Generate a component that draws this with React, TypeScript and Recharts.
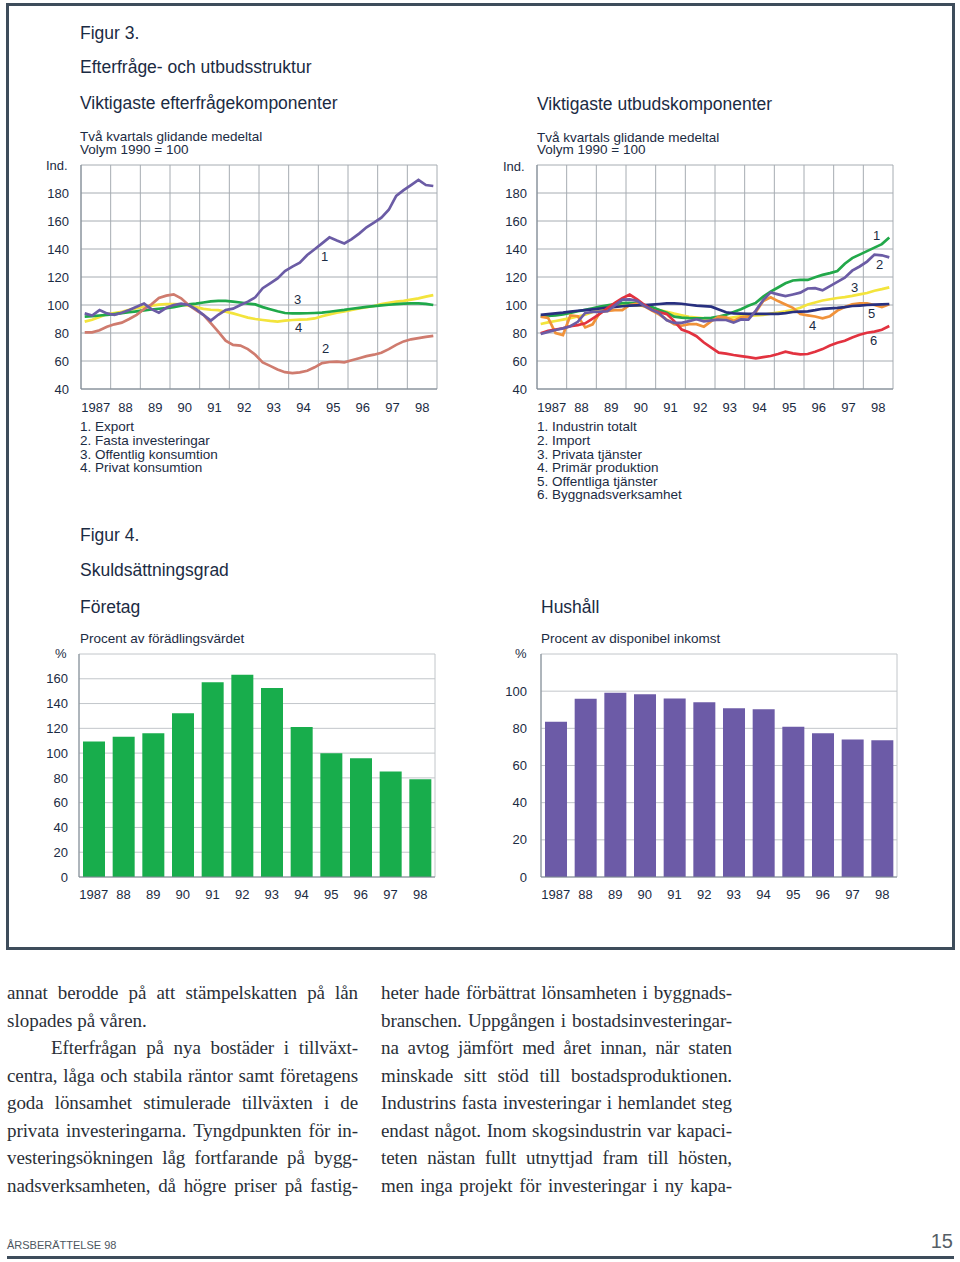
import React from 'react';
import { LineChart, Line, BarChart, Bar, XAxis, YAxis, CartesianGrid } from 'recharts';

const SANS = '"Liberation Sans", Arial, Helvetica, sans-serif';
const SERIF = '"Liberation Serif", "Times New Roman", Times, serif';
const INK = '#1b2b43';
const FRAME = '#3e4d5b';
const GRID = '#a6acb2';
const BAR_GRID = '#c2c6ca';
const BORDER = '#7d8892';

// ---------- categories ----------
const years = [1987, 1988, 1989, 1990, 1991, 1992, 1993, 1994, 1995, 1996, 1997, 1998];
const yearLabels = ['1987', '88', '89', '90', '91', '92', '93', '94', '95', '96', '97', '98'];
const gridYears = [1987, 1988, 1989, 1990, 1991, 1992, 1993, 1994, 1995, 1996, 1997, 1998, 1999];
const labelTicks = years.map((y) => y + 0.5);
const quarterTimes = years.flatMap((y) => [0, 1, 2, 3].map((q) => y + (q + 0.5) / 4));
const indexTicks = [40, 60, 80, 100, 120, 140, 160, 180, 200];
const foretagTicks = [0, 20, 40, 60, 80, 100, 120, 140, 160, 180];
const hushallTicks = [0, 20, 40, 60, 80, 100, 120];

// ---------- Figur 3, efterfrågekomponenter (quarterly, 1990 = 100) ----------
const exportSeries = [94, 92.5, 96.4, 94, 93, 94.5, 96.4, 98.7, 101, 97, 94.5, 98, 100, 101, 100, 97, 93, 88.8, 93, 96.4, 97.4, 100, 102.4, 105.5, 112, 115.5, 119, 124.3, 127.4, 130.2, 135.7, 139.8, 144, 148.3, 146, 144, 147, 151, 155.5, 158.8, 162.4, 168, 178, 182, 185.7, 189.3, 185.7, 185];
const fastaSeries = [80.5, 80.5, 82, 84.5, 86.2, 87.4, 90, 93, 97, 100.5, 105, 106.7, 107.6, 104.8, 100, 96.3, 93, 87, 81, 74.5, 71.5, 71, 68.5, 64.5, 59, 56.5, 54, 52, 51.3, 51.9, 53, 55.5, 58.5, 59.3, 59.5, 59, 60.5, 62, 63.5, 64.5, 65.9, 68.5, 71.5, 74, 75.5, 76.3, 77.2, 78];
const offKonsSeries = [91.7, 92.1, 92.5, 92.9, 93.5, 94.2, 94.8, 95.5, 96.2, 96.8, 97.3, 97.8, 98.5, 99.5, 100.4, 101, 101.8, 102.6, 102.9, 102.9, 102.4, 101.8, 101, 100.4, 98.5, 97, 95.5, 94.3, 94, 94, 94.1, 94.3, 94.6, 95.2, 95.9, 96.5, 97.3, 98, 98.7, 99.2, 99.7, 100.2, 100.6, 101, 101.2, 101.2, 100.8, 100];
const privKonsSeries = [88.1, 89.5, 91.5, 93.5, 94.3, 95.1, 96.5, 97.8, 98.8, 99.6, 100.3, 100.7, 100.6, 100.5, 99.6, 98.5, 97.2, 96.6, 96.3, 95.2, 94, 92.5, 91, 90, 89.3, 88.6, 88.1, 88.8, 89.3, 89.5, 89.8, 90.4, 92, 93.3, 94.5, 95.4, 96.4, 97.5, 98.4, 99.3, 100.6, 101.6, 102.4, 103, 103.8, 104.7, 106, 107.1];

// ---------- Figur 3, utbudskomponenter ----------
const industrinSeries = [91.7, 92.2, 92.6, 93.3, 94.4, 95.5, 96.5, 97.6, 98.8, 99.8, 100.6, 101.3, 101.5, 101.1, 100, 98.5, 96.5, 94.5, 91.7, 91, 90.6, 90.5, 90.6, 90.9, 91.7, 93, 95, 97, 99.5, 101.5, 106, 109.5, 112.5, 115.5, 117.5, 117.9, 117.9, 119.8, 121.5, 122.8, 124.3, 129.5, 133.5, 136, 138.5, 141, 143.5, 148.3];
const importSeries = [79.3, 80.8, 82.1, 83.3, 84.8, 88, 94.3, 95, 95.2, 95.5, 99.7, 103.8, 104, 103, 99.2, 96.5, 94, 89, 87.2, 87.3, 88.5, 89.8, 88.3, 89, 89.6, 89.3, 87.4, 89.7, 89.5, 96, 103.5, 109, 107.6, 106.3, 107.5, 108.8, 111.8, 112, 110.5, 113.5, 116.5, 119.5, 124.5, 127.5, 131, 136, 135.5, 134];
const privTjSeries = [86.4, 87.6, 88.6, 89.6, 90.6, 91.8, 93, 95, 96.5, 97.8, 98.8, 99.7, 100, 99.8, 99.2, 98, 96.4, 95.2, 93.8, 92.6, 91.5, 91, 90.5, 90.1, 90.2, 90.5, 91.2, 92, 92.3, 92.5, 93, 93.8, 94.6, 95.4, 96.4, 98, 100.4, 101.8, 103.2, 104.1, 105, 105.6, 106.5, 107.6, 108.6, 110.2, 111.3, 112.6];
const primarSeries = [91.7, 90.8, 80, 78.5, 92.5, 92, 84, 86.2, 94.8, 95.8, 96.3, 96.4, 100, 101, 99, 96, 93.2, 89.5, 86.3, 85.2, 86.3, 86.3, 84.5, 88.5, 91.7, 91.2, 88.6, 91.2, 91.7, 95, 102.8, 105.5, 102.8, 100.4, 98, 93.5, 92.6, 91.8, 90.5, 92, 96, 98.5, 100.4, 101.2, 101.2, 100, 98.5, 100.5];
const offTjSeries = [92.9, 93.5, 94, 94.5, 95.3, 95.9, 96.4, 96.9, 97.5, 98.1, 98.6, 99.1, 99.5, 99.8, 100, 100.3, 100.7, 101.1, 101.2, 100.9, 100.2, 99.5, 99.2, 98.8, 96.8, 94.8, 94, 93.8, 93.6, 93.6, 93.6, 93.6, 93.6, 94.2, 95, 95.2, 95.5, 96.3, 97.3, 97.6, 97.9, 98.5, 99.3, 99.6, 100, 100.2, 100.4, 100.7];
const byggSeries = [79.8, 81.6, 82.5, 83.4, 84.8, 85.6, 86.9, 90.3, 93.8, 97.8, 101.5, 104.8, 107.5, 104, 100, 96.5, 94.8, 93.5, 88.5, 82.5, 80.5, 77.7, 73.2, 69.5, 66, 65.3, 64.3, 63.5, 62.8, 61.9, 62.8, 63.6, 65, 66.7, 65.5, 64.7, 65, 66.6, 68.5, 71, 73, 74.5, 76.8, 78.7, 80.2, 81, 82.3, 85];

// ---------- Figur 4, skuldsättningsgrad ----------
const foretagValues = [109.3, 113.3, 116, 132.2, 157.1, 163.3, 152.5, 121.1, 99.9, 95.9, 85.1, 79];
const hushallValues = [83.5, 95.9, 99.1, 98.4, 96.1, 94.1, 90.8, 90.3, 80.8, 77.4, 74, 73.6];

const demandLegend = ['1. Export', '2. Fasta investeringar', '3. Offentlig konsumtion', '4. Privat konsumtion'];
const supplyLegend = ['1. Industrin totalt', '2. Import', '3. Privata tjänster', '4. Primär produktion', '5. Offentliga tjänster', '6. Byggnadsverksamhet'];

const demandData = quarterTimes.map((t, i) => ({
  t,
  exp: exportSeries[i],
  fasta: fastaSeries[i],
  offk: offKonsSeries[i],
  privk: privKonsSeries[i],
}));
const supplyData = quarterTimes.map((t, i) => ({
  t,
  ind: industrinSeries[i],
  imp: importSeries[i],
  privt: privTjSeries[i],
  prim: primarSeries[i],
  offt: offTjSeries[i],
  bygg: byggSeries[i],
}));
const foretagData = yearLabels.map((y, i) => ({ year: y, v: foretagValues[i] }));
const hushallData = yearLabels.map((y, i) => ({ year: y, v: hushallValues[i] }));

const demandLines = [
  { key: 'privk', color: '#f3e43c' },
  { key: 'offk', color: '#1fa84a' },
  { key: 'fasta', color: '#cf7b6e' },
  { key: 'exp', color: '#6b5ca5' },
];
const supplyLines = [
  { key: 'privt', color: '#f3e43c' },
  { key: 'ind', color: '#22a84a' },
  { key: 'prim', color: '#f0923a' },
  { key: 'offt', color: '#28307f' },
  { key: 'bygg', color: '#e2323f' },
  { key: 'imp', color: '#6b5ca5' },
];

const tickStyle = { fill: INK, fontSize: 13, fontFamily: SANS };

function Txt({ left, top, size, children, color = INK, align = 'left', width }: any) {
  return (
    <div
      style={{
        position: 'absolute',
        left,
        top,
        width,
        fontSize: size,
        lineHeight: 1,
        fontFamily: SANS,
        color,
        whiteSpace: 'nowrap',
        textAlign: align,
      }}
    >
      {children}
    </div>
  );
}

function IndexChart({ data, lines, left, tickGap }: any) {
  return (
    <div style={{ position: 'absolute', left, top: 155 }}>
      <LineChart width={400} height={264} data={data} margin={{ top: 10, right: 4, bottom: 0, left: 0 }}>
        <CartesianGrid
          stroke={GRID}
          strokeWidth={1}
          verticalCoordinatesGenerator={({ xAxis, offset }: any) =>
            gridYears.map((y) =>
              xAxis && typeof xAxis.scale === 'function'
                ? xAxis.scale(y)
                : offset.left + ((y - gridYears[0]) / (gridYears.length - 1)) * offset.width
            )
          }
        />
        <XAxis
          dataKey="t"
          type="number"
          domain={[1987, 1999]}
          ticks={labelTicks}
          interval={0}
          tickFormatter={(v: number) => yearLabels[Math.round(v - 1987.5)]}
          axisLine={{ stroke: BORDER }}
          tickLine={false}
          tickSize={0}
          tickMargin={14}
          height={30}
          tick={tickStyle}
        />
        <XAxis xAxisId="top" orientation="top" dataKey="t" type="number" domain={[1987, 1999]} height={0} tick={false} tickLine={false} axisLine={{ stroke: BORDER }} />
        <YAxis
          domain={[40, 200]}
          ticks={indexTicks}
          interval={0}
          tickFormatter={(v: number) => (v === 200 ? '' : String(v))}
          width={40}
          axisLine={{ stroke: BORDER }}
          tickLine={false}
          tickSize={0}
          tickMargin={tickGap}
          tick={tickStyle}
        />
        <YAxis yAxisId="right" orientation="right" domain={[40, 200]} width={0} tick={false} tickLine={false} axisLine={{ stroke: BORDER }} />
        {lines.map((l: any) => (
          <Line
            key={l.key}
            dataKey={l.key}
            type="linear"
            stroke={l.color}
            strokeWidth={2.7}
            dot={false}
            activeDot={false}
            isAnimationActive={false}
          />
        ))}
      </LineChart>
    </div>
  );
}

function DebtChart({ data, left, color, max, ticks, tickGap }: any) {
  return (
    <div style={{ position: 'absolute', left, top: 644 }}>
      <BarChart width={400} height={263} data={data} margin={{ top: 10, right: 4, bottom: 0, left: 0 }} barCategoryGap="13.5%">
        <CartesianGrid
          stroke={BAR_GRID}
          strokeWidth={1}
          verticalCoordinatesGenerator={({ offset }: any) => [offset.left, offset.left + offset.width]}
        />
        <XAxis
          dataKey="year"
          interval={0}
          axisLine={{ stroke: BORDER }}
          tickLine={false}
          tickSize={0}
          tickMargin={13}
          height={30}
          tick={tickStyle}
        />
        <XAxis xAxisId="top" orientation="top" dataKey="year" height={0} tick={false} tickLine={false} axisLine={{ stroke: BORDER }} />
        <YAxis
          domain={[0, max]}
          ticks={ticks}
          interval={0}
          tickFormatter={(v: number) => (v === max ? '' : String(v))}
          width={40}
          axisLine={{ stroke: BORDER }}
          tickLine={false}
          tickSize={0}
          tickMargin={tickGap}
          tick={tickStyle}
        />
        <YAxis yAxisId="right" orientation="right" domain={[0, max]} width={0} tick={false} tickLine={false} axisLine={{ stroke: BORDER }} />
        <Bar dataKey="v" fill={color} isAnimationActive={false} />
      </BarChart>
    </div>
  );
}

const leftColumn = [
  { text: 'annat berodde på att stämpelskatten på lån', last: false, indent: false },
  { text: 'slopades på våren.', last: true, indent: false },
  { text: 'Efterfrågan på nya bostäder i tillväxt-', last: false, indent: true },
  { text: 'centra, låga och stabila räntor samt företagens', last: false, indent: false },
  { text: 'goda lönsamhet stimulerade tillväxten i de', last: false, indent: false },
  { text: 'privata investeringarna. Tyngdpunkten för in-', last: false, indent: false },
  { text: 'vesteringsökningen låg fortfarande på bygg-', last: false, indent: false },
  { text: 'nadsverksamheten, då högre priser på fastig-', last: false, indent: false },
];
const rightColumn = [
  { text: 'heter hade förbättrat lönsamheten i byggnads-', last: false, indent: false },
  { text: 'branschen. Uppgången i bostadsinvesteringar-', last: false, indent: false },
  { text: 'na avtog jämfört med året innan, när staten', last: false, indent: false },
  { text: 'minskade sitt stöd till bostadsproduktionen.', last: false, indent: false },
  { text: 'Industrins fasta investeringar i hemlandet steg', last: false, indent: false },
  { text: 'endast något. Inom skogsindustrin var kapaci-', last: false, indent: false },
  { text: 'teten nästan fullt utnyttjad fram till hösten,', last: false, indent: false },
  { text: 'men inga projekt för investeringar i ny kapa-', last: false, indent: false },
];

function Column({ left, lines }: any) {
  return (
    <div style={{ position: 'absolute', left, top: 979, width: 351, fontFamily: SERIF, fontSize: 19, lineHeight: '27.5px', color: '#2a2f38' }}>
      {lines.map((l: any, i: number) =>
        l.last ? (
          <div key={i} style={{ whiteSpace: 'nowrap', paddingLeft: l.indent ? 44 : 0 }}>
            {l.text}
          </div>
        ) : (
          <div
            key={i}
            style={{
              display: 'flex',
              justifyContent: 'space-between',
              whiteSpace: 'nowrap',
              paddingLeft: l.indent ? 44 : 0,
              letterSpacing: -0.1,
            }}
          >
            {l.text.split(' ').map((w: string, j: number) => (
              <span key={j}>{w}</span>
            ))}
          </div>
        )
      )}
    </div>
  );
}

export default function App() {
  return (
    <div style={{ position: 'absolute', left: 0, top: 0, width: 960, height: 1262, background: '#fff', overflow: 'hidden', fontFamily: SANS }}>
      <div style={{ position: 'absolute', left: 6, top: 3, width: 949, height: 947, border: `3px solid ${FRAME}`, boxSizing: 'border-box' }} />

      <Txt left={80} top={24.5} size={17.5}>Figur 3.</Txt>
      <Txt left={80} top={59.2} size={17.5}>Efterfråge- och utbudsstruktur</Txt>
      <Txt left={80} top={95.2} size={17.5}>Viktigaste efterfrågekomponenter</Txt>
      <Txt left={537} top={96} size={17.5}>Viktigaste utbudskomponenter</Txt>

      <Txt left={80} top={130.3} size={13.5}>Två kvartals glidande medeltal</Txt>
      <Txt left={80} top={142.9} size={13.5}>Volym 1990 = 100</Txt>
      <Txt left={537} top={130.8} size={13.5}>Två kvartals glidande medeltal</Txt>
      <Txt left={537} top={143.4} size={13.5}>Volym 1990 = 100</Txt>
      <Txt left={46} top={159} size={13}>Ind.</Txt>
      <Txt left={503} top={160} size={13}>Ind.</Txt>

      <IndexChart data={demandData} lines={demandLines} left={41} tickGap={12} />
      <IndexChart data={supplyData} lines={supplyLines} left={497} tickGap={10} />

      <Txt left={321} top={250} size={13}>1</Txt>
      <Txt left={322} top={342} size={13}>2</Txt>
      <Txt left={294} top={293} size={13}>3</Txt>
      <Txt left={295} top={321} size={13}>4</Txt>

      <Txt left={873} top={229} size={13}>1</Txt>
      <Txt left={876} top={258} size={13}>2</Txt>
      <Txt left={851} top={281} size={13}>3</Txt>
      <Txt left={809} top={319} size={13}>4</Txt>
      <Txt left={868} top={307} size={13}>5</Txt>
      <Txt left={870} top={334} size={13}>6</Txt>

      <div style={{ position: 'absolute', left: 80, top: 420.2, fontSize: 13.5, lineHeight: '13.65px', color: INK, fontFamily: SANS, whiteSpace: 'nowrap' }}>
        {demandLegend.map((s) => (
          <div key={s}>{s}</div>
        ))}
      </div>
      <div style={{ position: 'absolute', left: 537, top: 420.2, fontSize: 13.5, lineHeight: '13.65px', color: INK, fontFamily: SANS, whiteSpace: 'nowrap' }}>
        {supplyLegend.map((s) => (
          <div key={s}>{s}</div>
        ))}
      </div>

      <Txt left={80} top={526.9} size={17.5}>Figur 4.</Txt>
      <Txt left={80} top={561.9} size={17.5}>Skuldsättningsgrad</Txt>
      <Txt left={80} top={598.5} size={17.5}>Företag</Txt>
      <Txt left={541} top={598.5} size={17.5}>Hushåll</Txt>
      <Txt left={80} top={631.9} size={13.5}>Procent av förädlingsvärdet</Txt>
      <Txt left={541} top={631.9} size={13.5}>Procent av disponibel inkomst</Txt>
      <Txt left={55} top={647} size={13}>%</Txt>
      <Txt left={515} top={647} size={13}>%</Txt>

      <DebtChart data={foretagData} left={39} color="#18ad4c" max={180} ticks={foretagTicks} tickGap={11} />
      <DebtChart data={hushallData} left={501} color="#6c5ba7" max={120} ticks={hushallTicks} tickGap={14} />

      <Column left={7} lines={leftColumn} />
      <Column left={381} lines={rightColumn} />

      <Txt left={7} top={1240} size={11} color="#4d5660">ÅRSBERÄTTELSE 98</Txt>
      <Txt left={853} top={1231} size={20} color="#555e66" width={100} align="right">15</Txt>
      <div style={{ position: 'absolute', left: 7, top: 1256, width: 947, height: 3, background: FRAME }} />
    </div>
  );
}
